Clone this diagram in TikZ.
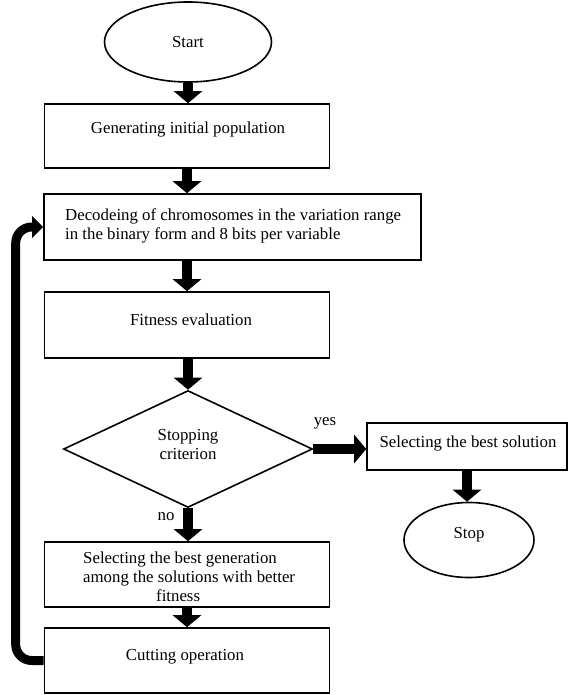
\documentclass[tikz,border=0pt]{standalone}
\usepackage{fontspec}
\setmainfont{Liberation Serif}
\usetikzlibrary{shapes.geometric,arrows.meta}
\begin{document}
\begin{tikzpicture}[x=1pt,y=-1pt,
  txt/.style={inner sep=0pt,font=\fontsize{16.8}{19}\selectfont},
  box/.style={draw,line width=1.6pt,rectangle,inner sep=0pt},
  term/.style={draw,line width=1.6pt,ellipse,inner sep=0pt,font=\fontsize{16.8}{19}\selectfont},
  dec/.style={draw,line width=1.6pt,diamond,inner sep=0pt},
  flow/.style={line width=10pt,-{Triangle[width=28pt,length=12pt]}},
  backloop/.style={line width=9pt,rounded corners=16pt,-{Triangle[width=21pt,length=11pt]}}
]
\useasboundingbox (0,0) rectangle (568,695);
% shapes
\node[term,minimum width=167pt,minimum height=80pt] (start) at (188,42) {Start};
\node[box,minimum width=285pt,minimum height=64pt] (b1) at (187,136) {};
\node[txt] (b1t) at (188,129) {Generating initial population};
\node[box,minimum width=377pt,minimum height=66pt] (b2) at (232.5,227) {};
\node[txt,anchor=west,align=left] (b2t) at (65,225.5) {Decodeing of chromosomes in the variation range\\in the binary form and 8 bits per variable};
\node[box,minimum width=285pt,minimum height=66pt] (b3) at (187,325) {};
\node[txt] (b3t) at (191,320) {Fitness evaluation};
\node[dec,minimum width=249pt,minimum height=117pt] (d) at (188,449) {};
\node[txt,align=center] (dt) at (188,445) {Stopping\\criterion};
\node[box,minimum width=200pt,minimum height=47pt] (sol) at (467,446.5) {};
\node[txt] (solt) at (468,443) {Selecting the best solution};
\node[term,minimum width=130pt,minimum height=75pt] (stop) at (469,540) {};
\node[txt] (stopt) at (469,535) {Stop};
\node[box,minimum width=285pt,minimum height=65pt] (sel) at (187,574.5) {};
\node[txt,anchor=west,align=left] (selt) at (83,576.5) {Selecting the best generation\\among the solutions with better\\\hspace*{73pt}fitness};
\node[box,minimum width=285pt,minimum height=65pt] (cut) at (187,660.5) {};
\node[txt] (cutt) at (185,657) {Cutting operation};
\node[txt] (yes) at (325,423) {yes};
\node[txt] (no) at (166,517) {no};
% connectors
\draw[flow] (start.south) -- (start.south |- b1.north);
\draw[flow] (b1.south) -- (b1.south |- b2.north);
\draw[flow] (b3.north |- b2.south) -- (b3.north);
\draw[flow] (b3.south -| d.north) -- (d.north);
\draw[flow] (d.east) -- (d.east -| sol.west);
\draw[flow] (sol.south) -- (sol.south |- stop.north);
\draw[flow] (d.south) -- (d.south |- sel.north);
\draw[flow] (sel.south) -- (cut.north);
\draw[backloop] (cut.west) -- ++(-28,0) |- (b2.west);
\end{tikzpicture}
\end{document}
